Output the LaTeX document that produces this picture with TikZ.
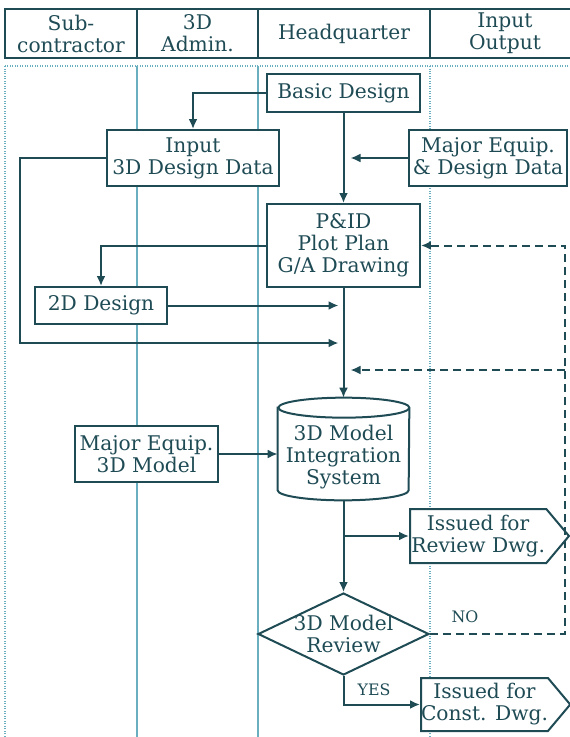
\documentclass[tikz,border=0pt]{standalone}
\usepackage{fontspec}
\setmainfont{DejaVu Serif}
\usetikzlibrary{positioning, shapes.geometric, shapes.symbols, arrows.meta, calc}

\definecolor{ink}{HTML}{1F4B55}
\definecolor{lane}{HTML}{6AAFC0}

\begin{document}
\begin{tikzpicture}[x=0.02cm, y=-0.02cm,
    font=\fontsize{11.5}{12.5}\selectfont, text=ink,
    box/.style={draw=ink, fill=white, line width=0.04cm, align=center, inner sep=0pt},
    arr/.style={draw=ink, line width=0.04cm, -{Latex[length=0.2cm,width=0.18cm]}},
    fb/.style={arr, dash pattern=on 0.16cm off 0.1cm},
    lanedot/.style={draw=lane, line width=0.03cm, dash pattern=on 0.02cm off 0.03cm},
    tag/.style={font=\fontsize{9}{10}\selectfont}]
  \useasboundingbox (0,0) rectangle (570,737);

  % Header row
  \foreach \n/\x/\w/\t in {sub/71/132/{Sub-\\contractor}, adm/197.5/121/{3D\\Admin.},
                           hq/344/172/Headquarter, io/505/150/{Input\\Output}} {
    \node[box, minimum width=\w*0.02cm, minimum height=0.98cm] (\n) at (\x,33.5) {\t};
  }

  % Lanes
  \draw[lanedot] (5,66) rectangle (600,760);
  \foreach \x in {137,258} {
    \draw[lane, line width=0.03cm] (\x,66) -- (\x,760);
  }
  \draw[lanedot] (430,66) -- (430,760);

  % Boxes
  \node[box, minimum width=3.06cm, minimum height=0.76cm] (basic) at (343.5,93) {Basic Design};
  \node[box, minimum width=3.44cm, minimum height=1.12cm] (input3d) at (193,158) {Input\\3D Design Data};
  \node[box, minimum width=3.16cm, minimum height=1.12cm] (majorin) at (488,158) {Major Equip.\\\& Design Data};
  \node[box, minimum width=3.06cm, minimum height=1.66cm] (pid) at (343.5,245.5) {P\&ID\\Plot Plan\\G/A Drawing};
  \node[box, minimum width=2.64cm, minimum height=0.74cm] (twod) at (101,305.5) {2D Design};
  \node[box, minimum width=2.86cm, minimum height=1.12cm] (major3d) at (146.5,454) {Major Equip.\\3D Model};

  % Database drum
  \node[minimum width=2.62cm, minimum height=2.04cm, inner sep=0pt] (integ) at (343.5,449) {};
  \draw[ink, fill=white, line width=0.04cm]
    ($(integ.north west)+(0,10)$) -- ($(integ.south west)+(0,-10)$)
    arc[start angle=180, end angle=360, x radius=1.31cm, y radius=0.2cm]
    -- ($(integ.north east)+(0,10)$)
    arc[start angle=0, end angle=180, x radius=1.31cm, y radius=0.2cm] -- cycle;
  \draw[ink, line width=0.04cm] ($(integ.north east)+(0,10)$)
    arc[start angle=0, end angle=-180, x radius=1.31cm, y radius=0.2cm];
  \node[align=center] (integtext) at ($(integ.center)+(0,8)$) {3D Model\\Integration\\System};

  \node[box, diamond, aspect=2.1, inner sep=-1.5pt, minimum width=3.42cm, minimum height=1.64cm] (review) at (343.5,634) {3D Model\\Review};
  \node[box, signal, signal to=east, signal pointer angle=100, minimum width=3.18cm, minimum height=1.08cm,
        anchor=west] (revdwg) at (409,536) {Issued for\\Review Dwg.};
  \node[box, signal, signal to=east, signal pointer angle=100, minimum width=2.96cm, minimum height=1.06cm,
        anchor=west] (constdwg) at (420,704.5) {Issued for\\Const. Dwg.};

  % Flow
  \draw[arr] (basic.west) -| (input3d.north);
  \draw[arr] (basic) -- (pid);
  \draw[arr, shorten >=0.14cm] (majorin.west) -- (majorin.west -| pid.north);
  \coordinate (loopL) at (20,343);
  \draw[arr, shorten >=0.1cm] (input3d.west) -| (loopL) -- (loopL -| pid.south);
  \draw[arr] (pid.west) -| (twod.north);
  \draw[arr, shorten >=0.1cm] (twod.east) -- (twod.east -| pid.south);
  \draw[arr] (pid) -- (integ);
  \draw[arr] (major3d.east) -- (major3d.east -| integ.west);
  \draw[arr] (integ) -- (review);
  \draw[arr] (integ.south |- revdwg.west) -- (revdwg.west);
  \draw[arr] (review.south) |- (constdwg.west);

  % Rework loop
  \coordinate (ret) at (565,370);
  \draw[fb] (review.east) -| (ret) |- (pid.east);
  \draw[fb, shorten >=0.14cm] (ret) -- (ret -| integ.north);

  \node[tag] (yes) at (374,690) {YES};
  \node[tag] (no) at (465,617) {NO};
\end{tikzpicture}
\end{document}
